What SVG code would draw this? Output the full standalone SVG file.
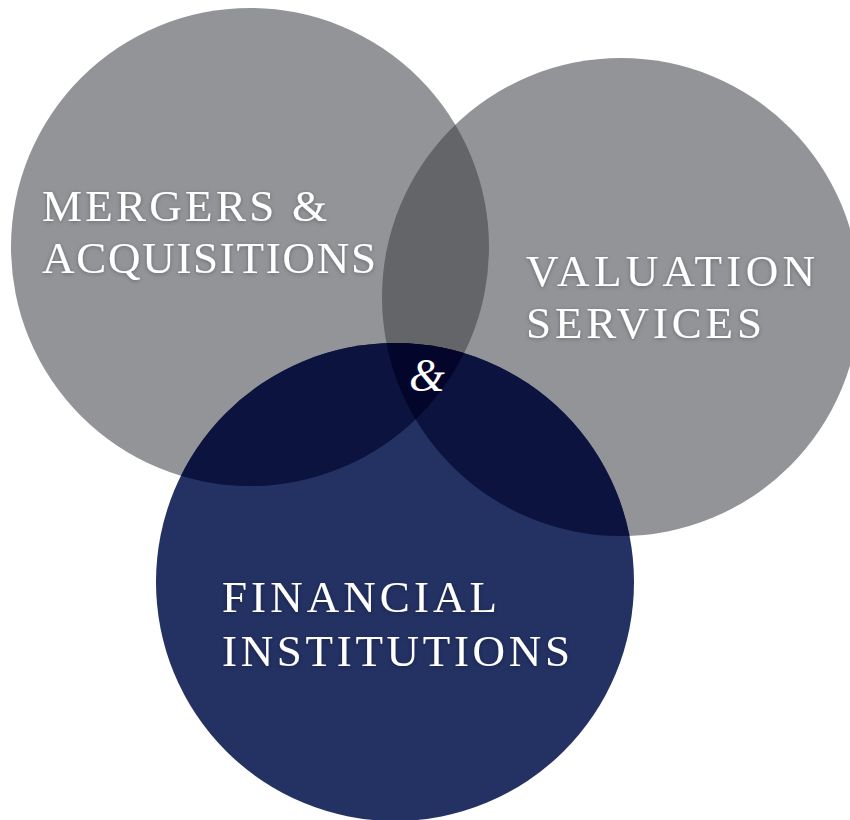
<svg xmlns="http://www.w3.org/2000/svg" width="850" height="820" viewBox="0 0 850 820">
<style>
.gray{fill:#939498}
.navy{fill:#233163}
.ab{fill:#646568}
.nc{fill:#0b133e}
.abc{fill:#03062a}
.lbl{font-family:"Liberation Serif","Times New Roman",serif;font-size:45px;fill:#ffffff;filter:url(#glow)}
.amp{font-family:"Liberation Serif","Times New Roman",serif;font-style:italic;font-size:46px;fill:#ffffff}
</style>
<defs>
<filter id="glow" x="-10%" y="-30%" width="120%" height="160%">
<feDropShadow dx="0" dy="1" stdDeviation="2" flood-color="#000000" flood-opacity="0.3"/>
</filter>
<clipPath id="clipA"><circle cx="250" cy="247" r="239"/></clipPath>
<clipPath id="clipB"><circle cx="621" cy="297" r="239"/></clipPath>
</defs>
<g id="circle-ma">
<circle class="gray" cx="250" cy="247" r="239"/>
</g>
<g id="circle-vs">
<circle class="gray" cx="621" cy="297" r="239"/>
</g>
<g id="circle-fi">
<circle class="navy" cx="395" cy="582" r="239"/>
</g>
<g id="overlaps">
<circle class="ab" cx="621" cy="297" r="239" clip-path="url(#clipA)"/>
<circle class="nc" cx="395" cy="582" r="239" clip-path="url(#clipA)"/>
<circle class="nc" cx="395" cy="582" r="239" clip-path="url(#clipB)"/>
<g clip-path="url(#clipA)">
<circle class="abc" cx="395" cy="582" r="239" clip-path="url(#clipB)"/>
</g>
</g>
<g id="label-ma">
<text class="lbl" x="42" y="221" textLength="285" lengthAdjust="spacing">MERGERS &amp;</text>
<text class="lbl" x="42" y="273" textLength="334" lengthAdjust="spacing">ACQUISITIONS</text>
</g>
<g id="label-vs">
<text class="lbl" x="526" y="286" textLength="289" lengthAdjust="spacing">VALUATION</text>
<text class="lbl" x="526" y="338" textLength="236" lengthAdjust="spacing">SERVICES</text>
</g>
<g id="label-fi">
<text class="lbl" x="222" y="612" textLength="275" lengthAdjust="spacing">FINANCIAL</text>
<text class="lbl" x="222" y="666" textLength="348" lengthAdjust="spacing">INSTITUTIONS</text>
</g>
<g id="ampersand">
<text class="amp" x="427" y="391" text-anchor="middle">&amp;</text>
</g>
</svg>
